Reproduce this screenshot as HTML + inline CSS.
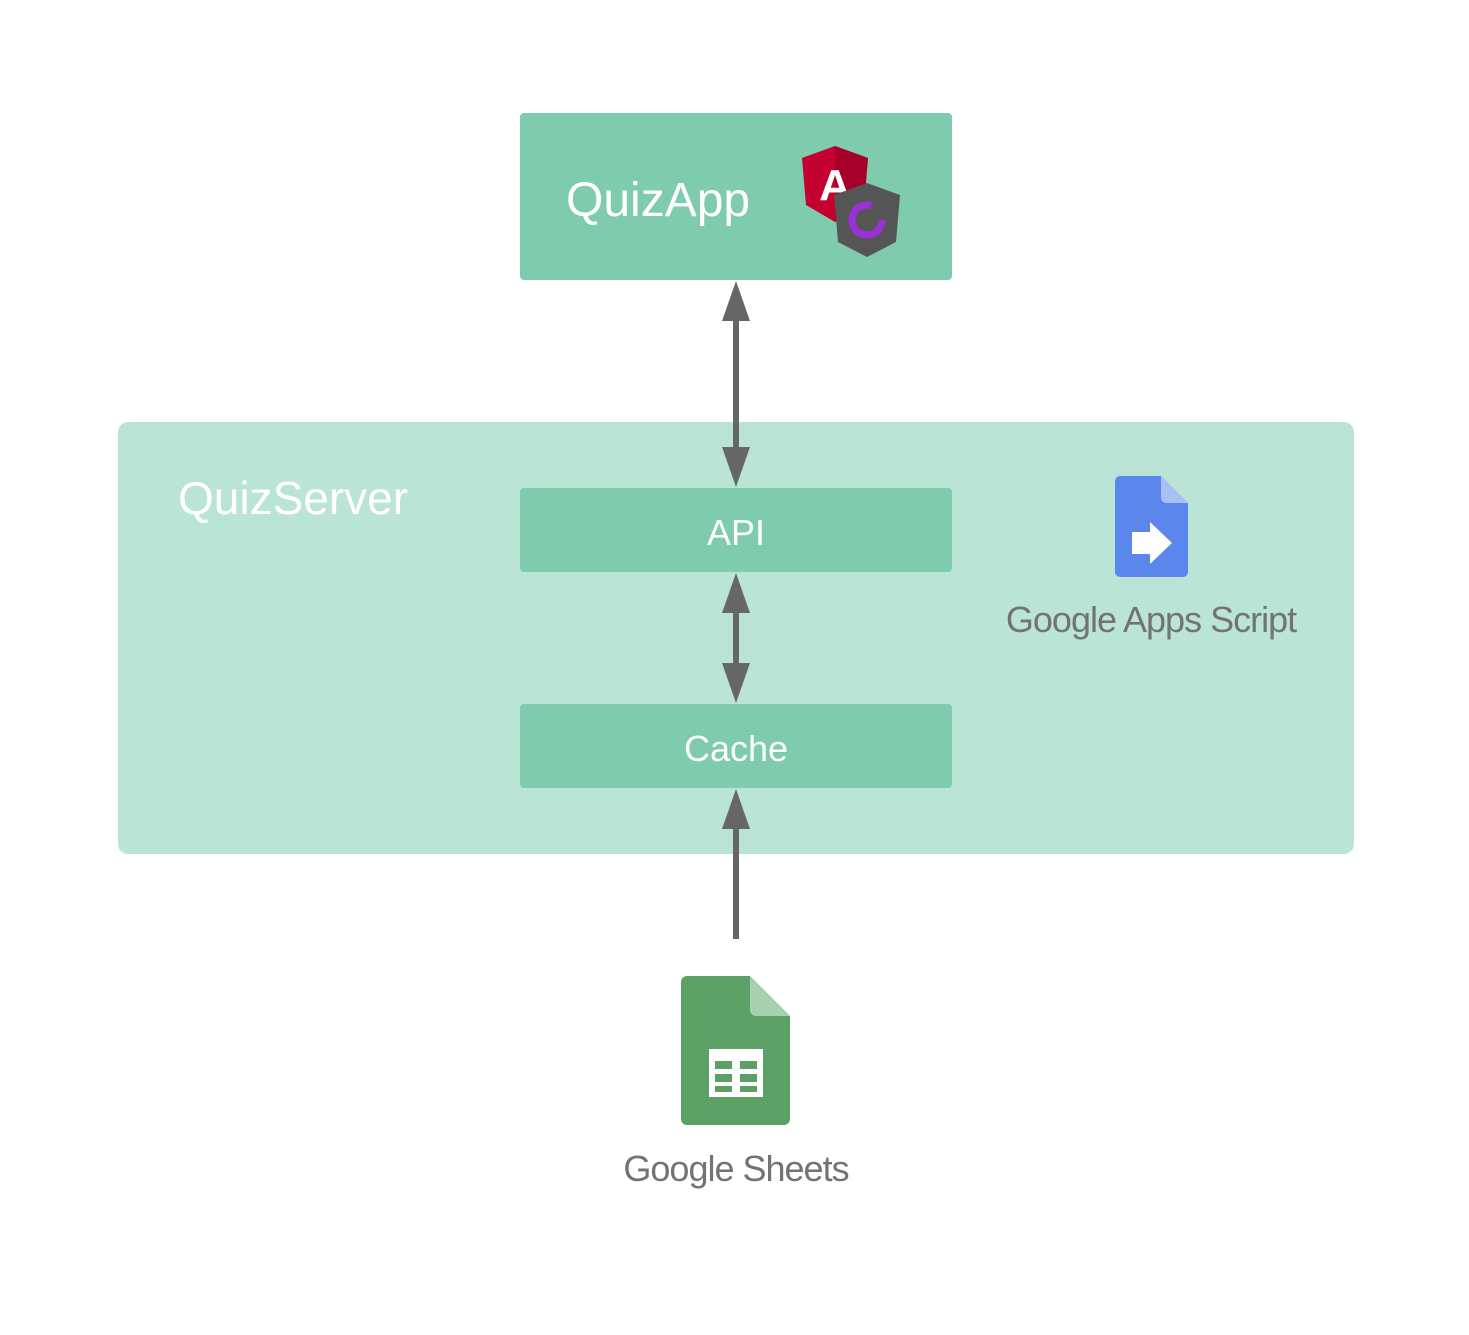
<!DOCTYPE html>
<html><head><meta charset="utf-8"><style>html,body{margin:0;padding:0;background:#fff}</style></head>
<body>
<svg width="1469" height="1330" viewBox="0 0 1469 1330" xmlns="http://www.w3.org/2000/svg" font-family="Liberation Sans, sans-serif">
<rect x="118" y="422" width="1236" height="432" rx="10" fill="#BAE4D5"/>
<rect x="520" y="113" width="432" height="167" rx="4" fill="#7ECCAD"/>
<rect x="520" y="488" width="432" height="84" rx="4" fill="#7ECCAD"/>
<rect x="520" y="704" width="432" height="84" rx="4" fill="#7ECCAD"/>
<text x="566" y="216" font-size="48" fill="#fff">QuizApp</text>
<text x="178" y="514" font-size="46" fill="#fff">QuizServer</text>
<text x="736" y="545" font-size="36" fill="#fff" text-anchor="middle">API</text>
<text x="736" y="761" font-size="36" fill="#fff" text-anchor="middle">Cache</text>
<!-- angular -->
<polygon points="835,146 868,158 864,205 835,222 806,205 802,158" fill="#C3002F"/>
<polygon points="835,146 868,158 864,205 835,222" fill="#A6002A"/>
<text x="835" y="200" font-size="44" font-weight="bold" fill="#fff" text-anchor="middle">A</text>
<polygon points="867,183 900,195 896,242 867,257 838,242 834,195" fill="#555"/>
<circle cx="867" cy="220" r="15" fill="none" stroke="#9B30D9" stroke-width="7" stroke-dasharray="75 20"/>
<!-- arrows -->
<g fill="#666" stroke="none">
<rect x="733" y="315" width="6" height="140"/>
<polygon points="736,281 722,321 750,321"/>
<polygon points="736,487 722,447 750,447"/>
<rect x="733" y="605" width="6" height="65"/>
<polygon points="736,573 722,613 750,613"/>
<polygon points="736,703 722,663 750,663"/>
<rect x="733" y="825" width="6" height="114"/>
<polygon points="736,789 722,829 750,829"/>
</g>
<!-- apps script icon -->
<path d="M1120,476 H1161 L1188,503 V572 a5,5 0 0 1 -5,5 H1120 a5,5 0 0 1 -5,-5 V481 a5,5 0 0 1 5,-5 Z" fill="#5B87EC"/>
<path d="M1161,476 L1188,503 H1166 a5,5 0 0 1 -5,-5 Z" fill="#A8C0F7"/>
<polygon points="1132,532 1150,532 1150,522 1172,543 1150,564 1150,554 1132,554" fill="#fff"/>
<text x="1151" y="632" font-size="36" fill="#737373" text-anchor="middle" letter-spacing="-1">Google Apps Script</text>
<!-- sheets icon -->
<path d="M687,976 H750 L790,1016 V1119 a6,6 0 0 1 -6,6 H687 a6,6 0 0 1 -6,-6 V982 a6,6 0 0 1 6,-6 Z" fill="#5BA064"/>
<path d="M750,976 L790,1016 H756 a6,6 0 0 1 -6,-6 Z" fill="#A5D1AE"/>
<rect x="709" y="1049" width="54" height="48" fill="#fff"/>
<g fill="#5BA064">
<rect x="715" y="1061" width="17" height="8"/><rect x="740" y="1061" width="17" height="8"/>
<rect x="715" y="1074" width="17" height="8"/><rect x="740" y="1074" width="17" height="8"/>
<rect x="715" y="1086" width="17" height="6"/><rect x="740" y="1086" width="17" height="6"/>
</g>
<text x="736" y="1181" font-size="36" fill="#737373" text-anchor="middle" letter-spacing="-1">Google Sheets</text>
</svg>
</body></html>
